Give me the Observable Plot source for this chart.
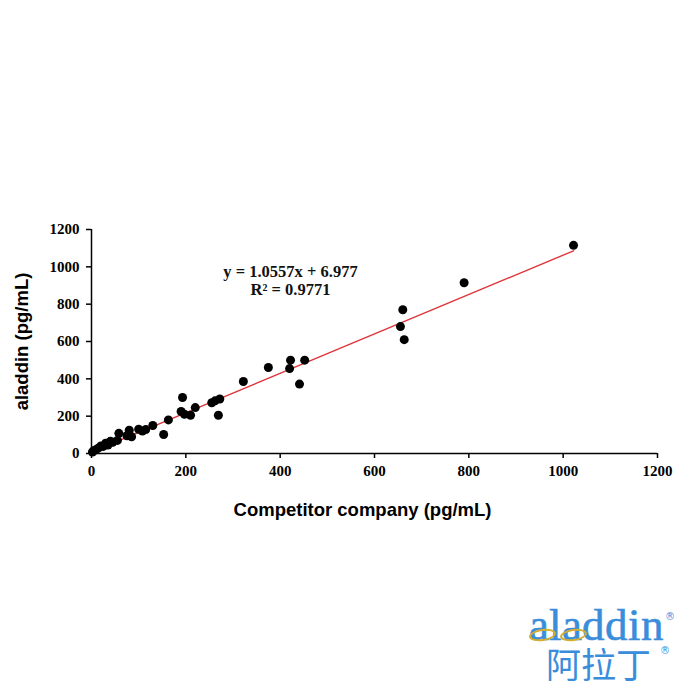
<!DOCTYPE html>
<html>
<head>
<meta charset="utf-8">
<script src="https://cdn.jsdelivr.net/npm/d3@7"></script>
<script src="https://cdn.jsdelivr.net/npm/@observablehq/plot@0.6"></script>
<style>
  @font-face { font-family: "LogoSerifTight"; src: local("Liberation Serif"), local("LiberationSerif"); ascent-override: 75%; descent-override: 5%; line-gap-override: 0%; }
  @font-face { font-family: "LogoCJKTight"; src: local("Noto Sans CJK SC"), local("NotoSansCJKsc-Regular"), local("Noto Sans CJK SC Regular"); ascent-override: 90%; descent-override: 12%; line-gap-override: 0%; }
  html, body { margin: 0; padding: 0; background: #fff; }
  #wrap { position: relative; width: 700px; height: 700px; }
  .logo-en { position: absolute; left: 529px; top: 602px; line-height: 1; font-family: "LogoSerifTight", "Liberation Serif", serif; font-size: 45px; color: #3a8ddb; -webkit-text-stroke: 0.6px #3a8ddb; }
  .logo-cn { position: absolute; left: 546px; top: 647px; line-height: 1; font-family: "LogoCJKTight", "Noto Sans CJK SC", sans-serif; font-size: 35px; color: #3a8ddb; }
  .reg { position: absolute; font-size: 10px; line-height: 1; color: #3a8ddb; font-family: "DejaVu Sans", sans-serif; }
  .ring { position: absolute; width: 23px; height: 8px; border: 2.5px solid #d6ad2e; border-radius: 50%; transform: rotate(-8deg); }
</style>
</head>
<body>
<div id="wrap"></div>
<script>
// Competitor company (x) vs aladdin (y), pg/mL
const competitor = [2, 5, 10, 15, 20, 25, 30, 35, 40, 45, 55, 58, 75, 80, 85, 100, 108, 115, 130, 153, 163, 190, 193, 197, 210, 220, 255, 262, 272, 269, 322, 375, 420, 422, 441, 452, 655, 660, 663, 790, 1022];
const aladdin    = [8, 15, 22, 30, 40, 38, 55, 45, 65, 60, 70, 108, 95, 125, 90, 130, 120, 128, 150, 102, 180, 225, 300, 210, 205, 246, 272, 282, 292, 205, 386, 461, 455, 500, 372, 500, 680, 770, 610, 915, 1115];
const slope = 1.0557;
const intercept = 6.977;
const rSquared = 0.9771;
const tickValues = [0, 200, 400, 600, 800, 1000, 1200];
const fitRange = [0, 1022];

const points = competitor.map((c, i) => ({x: c, y: aladdin[i]}));
const fit = fitRange.map(x => ({x, y: slope * x + intercept}));
const serif = "Liberation Serif, Times New Roman, serif";
const sans = "Liberation Sans, Arial, sans-serif";

const plot = Plot.plot({
  width: 700,
  height: 700,
  marginLeft: 91,
  marginRight: 43,
  marginTop: 229,
  marginBottom: 247,
  style: {background: "#fff", color: "#000"},
  x: {domain: [0, 1200], label: null},
  y: {domain: [0, 1200], label: null},
  marks: [
    Plot.axisX({ticks: tickValues, tickFormat: d3.format("d"), tickSize: 5, tickPadding: 7, fontSize: 15, fontWeight: "bold",
      fontFamily: serif, label: null, strokeWidth: 1.5}),
    Plot.axisY({ticks: tickValues, tickFormat: d3.format("d"), tickSize: 5, tickPadding: 7, fontSize: 15, fontWeight: "bold",
      fontFamily: serif, label: null, strokeWidth: 1.5}),
    Plot.ruleY([0], {stroke: "#000", strokeWidth: 1.5}),
    Plot.ruleX([0], {stroke: "#000", strokeWidth: 1.5}),
    Plot.line(fit, {x: "x", y: "y", stroke: "#e0353c", strokeWidth: 1.4}),
    Plot.dot(points, {x: "x", y: "y", r: 4.5, fill: "#000", stroke: "none"}),
    Plot.text([`y = ${slope}x + ${intercept}`], {frameAnchor: "top-left", dx: 199, dy: 42, lineAnchor: "middle",
      text: d => d, fontSize: 16.5, fontWeight: "bold", fontFamily: serif, textAnchor: "middle", fill: "#111"}),
    Plot.text([`R² = ${rSquared}`], {frameAnchor: "top-left", dx: 199, dy: 60, lineAnchor: "middle",
      text: d => d, fontSize: 16.5, fontWeight: "bold", fontFamily: serif, textAnchor: "middle", fill: "#111"}),
    Plot.text(["Competitor company (pg/mL)"], {frameAnchor: "bottom", dx: -12, dy: 57, lineAnchor: "middle", text: d => d,
      fontSize: 18.5, fontWeight: "bold", fontFamily: sans, fill: "#000"}),
    Plot.text(["aladdin (pg/mL)"], {frameAnchor: "left", dx: -69, text: d => d, rotate: -90, textAnchor: "middle", lineAnchor: "middle",
      fontSize: 18.5, fontWeight: "bold", fontFamily: sans, fill: "#000"})
  ]
});

const wrap = document.getElementById("wrap");
wrap.appendChild(plot);
const add = (cls, text, style) => {
  const el = document.createElement("div");
  el.className = cls;
  if (text) el.textContent = text;
  if (style) Object.assign(el.style, style);
  wrap.appendChild(el);
};
add("logo-en", "aladdin");
add("ring", "", {left: "529px", top: "629px"});
add("ring", "", {left: "560px", top: "629px"});
add("logo-cn", "阿拉丁");
add("reg", "®", {left: "665px", top: "612px"});
add("reg", "®", {left: "660px", top: "646px"});
</script>
</body>
</html>
